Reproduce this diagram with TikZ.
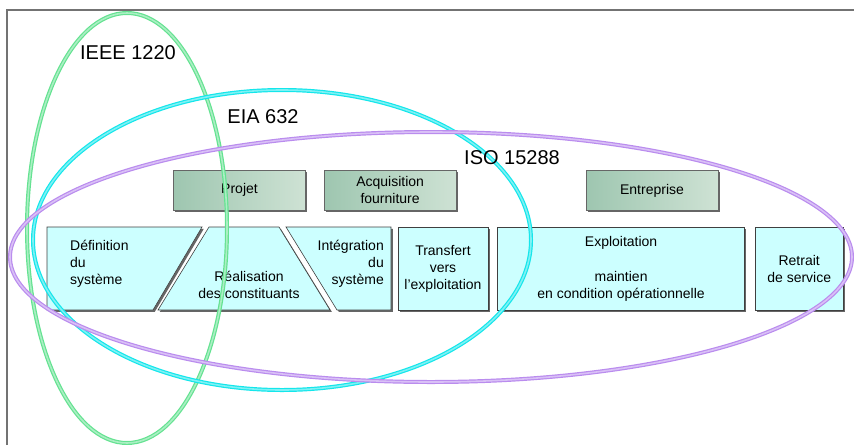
\documentclass[tikz,border=0pt]{standalone}
\usepackage{fontspec}
\setmainfont{Liberation Sans}
\usetikzlibrary{positioning}
\usetikzlibrary{shadows}

\definecolor{phasefill}{RGB}{204,255,255}
\definecolor{roledark}{RGB}{158,198,176}
\definecolor{rolelight}{RGB}{206,226,212}
\definecolor{ringgreen}{RGB}{100,226,145}
\definecolor{ringcyan}{RGB}{20,230,235}
\definecolor{ringviolet}{RGB}{186,140,238}

\begin{document}
\begin{tikzpicture}[x=1pt,y=-1pt,
      font=\fontsize{14}{17}\selectfont,
      phase style/.style={draw=black!75,fill=phasefill,line width=0.6pt,
        drop shadow={shadow xshift=1.8pt,shadow yshift=-1.8pt,fill=black!60,opacity=1}},
      box style/.style={phase style,minimum height=83pt,align=center,inner sep=0pt},
      role style/.style={draw=black!60,left color=roledark,right color=rolelight,
        line width=0.6pt,minimum height=40pt,minimum width=132pt,align=center,inner sep=0pt,
        drop shadow={shadow xshift=1.8pt,shadow yshift=-1.8pt,fill=black!60,opacity=1}},
      ring style/.style={draw=#1,double=#1!55!white,double distance=1.6pt,line width=1.2pt},
      norm style/.style={font=\fontsize{20}{24}\selectfont}
      ]
      \useasboundingbox (0,0) rectangle (854,445);
      \draw[black!55,line width=1.3pt] (7,445) -- (7,10) -- (854,10);

      \node[role style] (projet) at (239.5,190) {Projet};
      \node[role style,right=18pt of projet] (acq) {Acquisition\\fourniture};
      \node[role style] (entr) at (652,190.5) {Entreprise};

      \draw[phase style] (47,227) -- (202,227) -- (153,310) -- (47,310) -- cycle;
      \draw[phase style] (209,227) -- (279,227) -- (330,310) -- (158,310) -- cycle;
      \draw[phase style] (286,227) -- (391,227) -- (391,310) -- (337,310) -- cycle;
      \node[anchor=west,align=left,inner sep=0pt] (defin) at (70,264) {Définition\\du\\système};
      \node[align=center,inner sep=0pt] (real) at (249,284.5) {Réalisation\\des constituants};
      \node[anchor=east,align=right,inner sep=0pt] (integ) at (384,264) {Intégration\\du\\système};

      \node[box style,minimum width=90pt] (transf) at (443,268.5) {Transfert\\vers\\l’exploitation};
      \node[box style,minimum width=247pt,right=9pt of transf] (explo)
      {Exploitation\\[18pt]maintien\\en condition opérationnelle};
      \node[box style,minimum width=88pt,right=10pt of explo] (retrait) {Retrait\\de service};

      \draw[ring style=ringgreen] (127,228) ellipse [x radius=100pt,y radius=215pt];
      \draw[ring style=ringcyan] (282,240) ellipse [x radius=249pt,y radius=150pt];
      \draw[ring style=ringviolet] (431,257) ellipse [x radius=421pt,y radius=125pt];

      \node[norm style] (ieee) at (128,53) {IEEE 1220};
      \node[norm style] (eia) at (263,117) {EIA 632};
      \node[norm style] (iso) at (512,158) {ISO 15288};
    \end{tikzpicture}
\end{document}
